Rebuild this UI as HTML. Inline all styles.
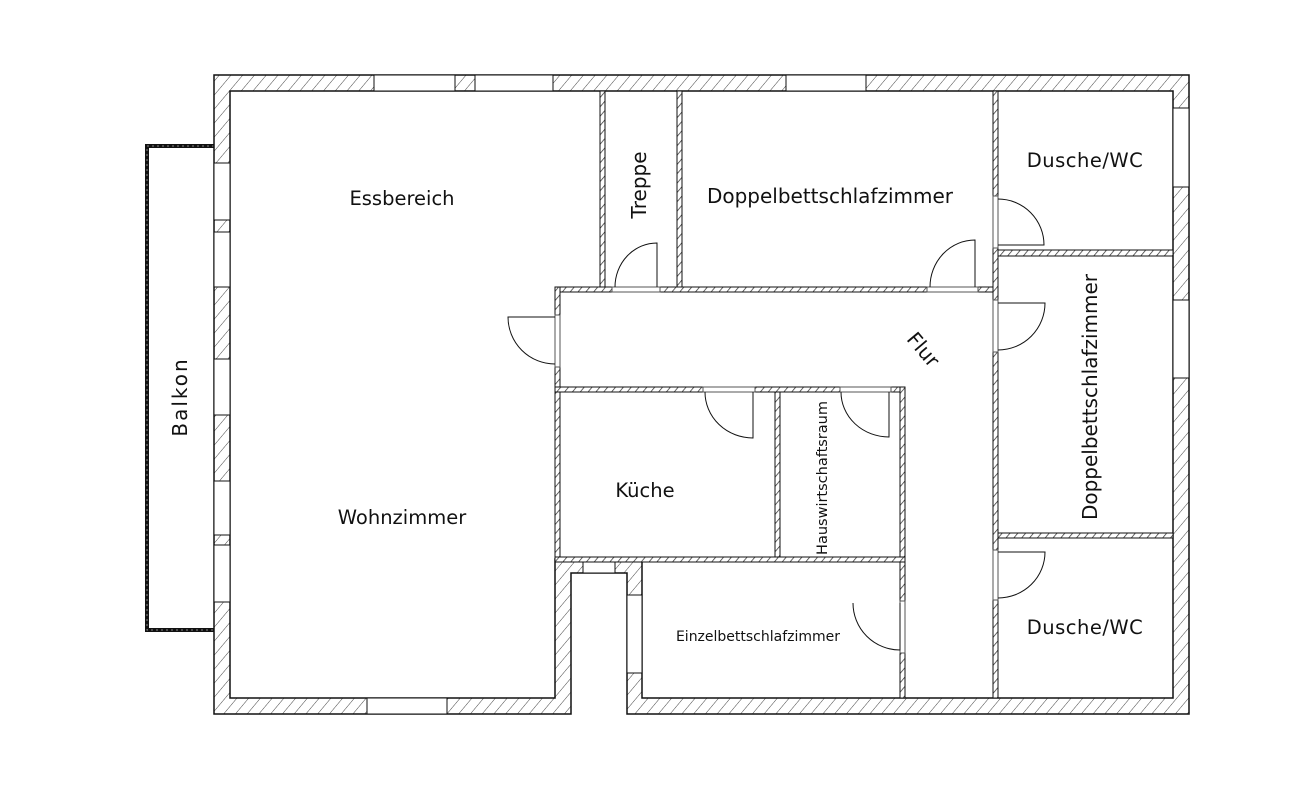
<!DOCTYPE html>
<html><head><meta charset="utf-8"><style>
html,body{margin:0;padding:0;background:#fff;}
svg{display:block;}
text{font-family:"DejaVu Sans","Liberation Sans",sans-serif;fill:#111;}
</style></head><body>
<svg width="1300" height="785" viewBox="0 0 1300 785" xmlns="http://www.w3.org/2000/svg">
<defs>
<pattern id="h" width="9" height="9" patternUnits="userSpaceOnUse" patternTransform="rotate(40)">
<rect width="9" height="9" fill="#fff"/><line x1="0" y1="0" x2="0" y2="9" stroke="#444" stroke-width="1"/>
</pattern>
<pattern id="s" width="6" height="6" patternUnits="userSpaceOnUse" patternTransform="rotate(40)">
<rect width="6" height="6" fill="#fff"/><line x1="0" y1="0" x2="0" y2="6" stroke="#333" stroke-width="1.5"/>
</pattern>
</defs>
<rect width="1300" height="785" fill="#fff"/>
<!-- balcony -->
<path d="M214,146 H147 V630 H214" fill="none" stroke="#111" stroke-width="4"/>
<path d="M214,146 H147 V630 H214" fill="none" stroke="#888" stroke-width="1" stroke-dasharray="2,3"/>
<!-- outer wall -->
<path fill-rule="evenodd" fill="url(#h)" stroke="#111" stroke-width="1.5"
 d="M214,75 H1189 V714 H627 V573 H571 V714 H214 Z M230,91 H1173 V698 H642 V559 H555 V698 H230 Z"/>
<g fill="#fff" stroke="#111" stroke-width="1">
<rect x="374" y="75" width="81" height="16"/><rect x="475" y="75" width="78" height="16"/><rect x="786" y="75" width="80" height="16"/>
<rect x="214" y="163" width="16" height="57"/><rect x="214" y="232" width="16" height="55"/><rect x="214" y="359" width="16" height="56"/>
<rect x="214" y="481" width="16" height="54"/><rect x="214" y="545" width="16" height="57"/>
<rect x="1173" y="108" width="16" height="79"/><rect x="1173" y="300" width="16" height="78"/>
<rect x="367" y="698" width="80" height="16"/>
<rect x="583" y="559" width="32" height="14"/><rect x="627" y="595" width="15" height="78"/>
</g>
<!-- interior walls -->
<g fill="url(#s)" stroke="#111" stroke-width="1">
<rect x="600" y="91" width="5" height="199"/>
<rect x="677" y="91" width="5" height="199"/>
<rect x="555" y="287" width="443" height="5"/>
<rect x="993" y="91" width="5" height="607"/>
<rect x="555" y="287" width="5" height="275"/>
<rect x="555" y="387" width="350" height="5"/>
<rect x="775" y="392" width="5" height="168"/>
<rect x="900" y="387" width="5" height="311"/>
<rect x="555" y="557" width="350" height="5"/>
<rect x="998" y="250" width="175" height="6"/>
<rect x="998" y="533" width="175" height="5"/>
</g>
<!-- door openings -->
<g fill="#fff" stroke="#555" stroke-width="1">
<rect x="612" y="287" width="48" height="5"/>
<rect x="927" y="287" width="51" height="5"/>
<rect x="703" y="387" width="52" height="5"/>
<rect x="840" y="387" width="51" height="5"/>
<rect x="993" y="196" width="5" height="52"/>
<rect x="993" y="300" width="5" height="52"/>
<rect x="993" y="550" width="5" height="50"/>
<rect x="555" y="315" width="5" height="52"/>
<rect x="900" y="601" width="5" height="52"/>
</g>
<!-- doors -->
<g fill="none" stroke="#111" stroke-width="1">
<path d="M615,287 A42,44 0 0 1 657,243 V287"/>
<path d="M930,287 A45,47 0 0 1 975,240 V287"/>
<path d="M998,199 A46,46 0 0 1 1044,245 H998"/>
<path d="M998,350 A47,47 0 0 0 1045,303 H998"/>
<path d="M998,598 A47,46 0 0 0 1045,552 H998"/>
<path d="M555,364 A47,47 0 0 1 508,317 H555"/>
<path d="M705,392 A48,46 0 0 0 753,438 V392"/>
<path d="M841,392 A48,45 0 0 0 889,437 V392"/>
<path d="M853,603 A47,47 0 0 0 900,650 V603"/>
</g>
<!-- labels -->
<text x="402" y="205" font-size="19.5" text-anchor="middle">Essbereich</text>
<text x="402" y="524" font-size="19.5" text-anchor="middle">Wohnzimmer</text>
<text x="830" y="203" font-size="20" text-anchor="middle">Doppelbettschlafzimmer</text>
<text x="1085" y="167" font-size="19.5" text-anchor="middle" letter-spacing="0.5">Dusche/WC</text>
<text x="1085" y="634" font-size="19.5" text-anchor="middle" letter-spacing="0.5">Dusche/WC</text>
<text x="645" y="497" font-size="19.5" text-anchor="middle">Küche</text>
<text x="758" y="641" font-size="14" text-anchor="middle">Einzelbettschlafzimmer</text>
<text transform="translate(646,185) rotate(-90)" font-size="20" text-anchor="middle">Treppe</text>
<text transform="translate(187,397) rotate(-90)" font-size="20" text-anchor="middle" letter-spacing="2">Balkon</text>
<text transform="translate(1097,397) rotate(-90)" font-size="20" text-anchor="middle">Doppelbettschlafzimmer</text>
<text transform="translate(827,478) rotate(-90)" font-size="14.5" text-anchor="middle">Hauswirtschaftsraum</text>
<text transform="translate(918,354) rotate(50)" font-size="20" text-anchor="middle">Flur</text>
</svg>
</body></html>
